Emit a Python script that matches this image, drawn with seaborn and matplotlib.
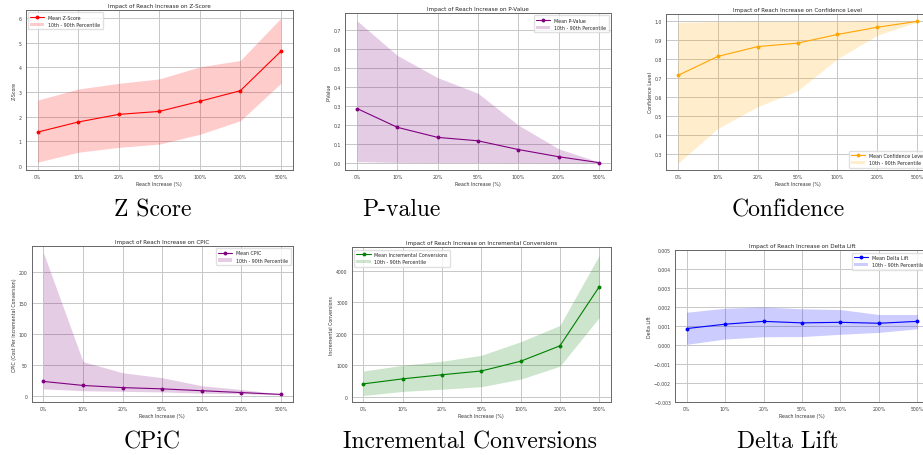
import numpy as np
import pandas as pd
import matplotlib
matplotlib.use('Agg')
import matplotlib.pyplot as plt
import seaborn as sns

reach_labels = ['0%', '10%', '20%', '50%', '100%', '200%', '500%']

z_mean = [1.37, 1.78, 2.09, 2.21, 2.62, 3.05, 4.65]
z_low = [0.15, 0.55, 0.75, 0.88, 1.28, 1.83, 3.35]
z_high = [2.67, 3.12, 3.35, 3.53, 4.02, 4.28, 6.00]

p_mean = [0.287, 0.188, 0.135, 0.117, 0.071, 0.033, 0.002]
p_low = [0.007, 0.003, 0.002, 0.002, 0.001, 0.000, 0.000]
p_high = [0.750, 0.567, 0.450, 0.368, 0.200, 0.075, 0.005]

conf_mean = [0.713, 0.813, 0.865, 0.883, 0.929, 0.967, 0.998]
conf_low = [0.250, 0.433, 0.548, 0.632, 0.800, 0.925, 0.995]
conf_high = [0.993, 0.997, 0.998, 0.998, 0.999, 1.000, 1.000]

cpic_mean = [24, 17.5, 14, 12, 9, 6, 3]
cpic_low = [12, 9, 8, 7, 5, 4, 2.5]
cpic_high = [232, 56, 38, 30, 17, 11, 3.5]

ic_mean = [410, 570, 700, 820, 1130, 1620, 3500]
ic_low = [40, 170, 240, 320, 560, 970, 2520]
ic_high = [820, 1000, 1130, 1320, 1750, 2270, 4500]

dl_mean = [0.00088, 0.00111, 0.00126, 0.00118, 0.00121, 0.00116, 0.00126]
dl_low = [0.00005, 0.00033, 0.00045, 0.00046, 0.00058, 0.00068, 0.00087]
dl_high = [0.00174, 0.00195, 0.00202, 0.00192, 0.00188, 0.00162, 0.00162]

sns.set_style('whitegrid', {'grid.color': '0.78', 'axes.edgecolor': '0.4'})

fig = plt.figure(figsize=(9.23, 4.56), dpi=100)
W, H = 923, 456


def panel(box, mean, low, high, color, metric, ylabel, title, loc, ylim, yticks=None):
    left, top, right, bottom = box
    ax = fig.add_axes([left / W, 1 - bottom / H, (right - left) / W, (bottom - top) / H])
    pos = np.arange(len(reach_labels))
    df = pd.DataFrame({'pos': pos, 'mean': mean})
    sns.lineplot(data=df, x='pos', y='mean', color=color, marker='o', markersize=2.8,
                 markeredgewidth=0, linewidth=0.8, label='Mean ' + metric, ax=ax)
    ax.fill_between(pos, low, high, color=color, alpha=0.2, linewidth=0,
                    label='10th - 90th Percentile')
    ax.set_xticks(pos)
    ax.set_xticklabels(reach_labels)
    ax.set_xlim(-0.3, 6.3)
    ax.set_ylim(*ylim)
    if yticks is not None:
        ax.set_yticks(yticks)
    ax.tick_params(labelsize=3.3, length=1.3, width=0.4, pad=1.6, colors='0.25')
    ax.set_xlabel('Reach Increase (%)', fontsize=3.4, labelpad=1.5, color='0.2')
    ax.set_ylabel(ylabel, fontsize=3.4, labelpad=1.5, color='0.2')
    ax.set_title(title, fontsize=4.1, pad=2.3, color='0.15')
    for s in ax.spines.values():
        s.set_linewidth(0.7)
    ax.grid(True, linewidth=0.7)
    ax.legend(loc=loc, fontsize=3.4, frameon=True, borderpad=0.5, handlelength=3,
              framealpha=0.8, edgecolor='0.85')
    return ax


panel((25.5, 11, 293, 171), z_mean, z_low, z_high, 'red', 'Z-Score', 'Z-Score',
      'Impact of Reach Increase on Z-Score', 'upper left', (-0.17, 6.33), range(0, 7))
panel((345, 14, 611, 171), p_mean, p_low, p_high, 'purple', 'P-Value', 'P-Value',
      'Impact of Reach Increase on P-Value', 'upper right', (-0.037, 0.791),
      np.arange(0, 0.71, 0.1))
panel((666, 15, 929, 171), conf_mean, conf_low, conf_high, 'orange', 'Confidence Level',
      'Confidence Level', 'Impact of Reach Increase on Confidence Level', 'lower right',
      (0.214, 1.037), np.arange(0.3, 1.01, 0.1))
panel((31.5, 246.7, 293, 403.3), cpic_mean, cpic_low, cpic_high, 'purple', 'CPIC',
      'CPIC (Cost Per Incremental Conversion)', 'Impact of Reach Increase on CPIC',
      'upper right', (-9.7, 243), range(0, 201, 50))
panel((351.7, 248.3, 611, 403.3), ic_mean, ic_low, ic_high, 'green', 'Incremental Conversions',
      'Incremental Conversions', 'Impact of Reach Increase on Incremental Conversions',
      'upper left', (-177, 4757), range(0, 4001, 1000))
panel((675, 251.3, 929, 403.3), dl_mean, dl_low, dl_high, 'blue', 'Delta Lift', 'Delta Lift',
      'Impact of Reach Increase on Delta Lift', 'upper right', (-0.003, 0.005),
      np.arange(-0.003, 0.0051, 0.001))

captions = ['Z Score', 'P-value', 'Confidence', 'CPiC', 'Incremental Conversions', 'Delta Lift']
cap_x = [153, 401, 788, 152, 470, 788]
cap_y = [210, 210, 210, 442, 442, 442]
for t, cx, cy in zip(captions, cap_x, cap_y):
    fig.text(cx / W, 1 - cy / H, t, fontfamily='cmr10', fontsize=17,
             ha='center', va='center', color='black')

fig.savefig('out.png', dpi=100)
